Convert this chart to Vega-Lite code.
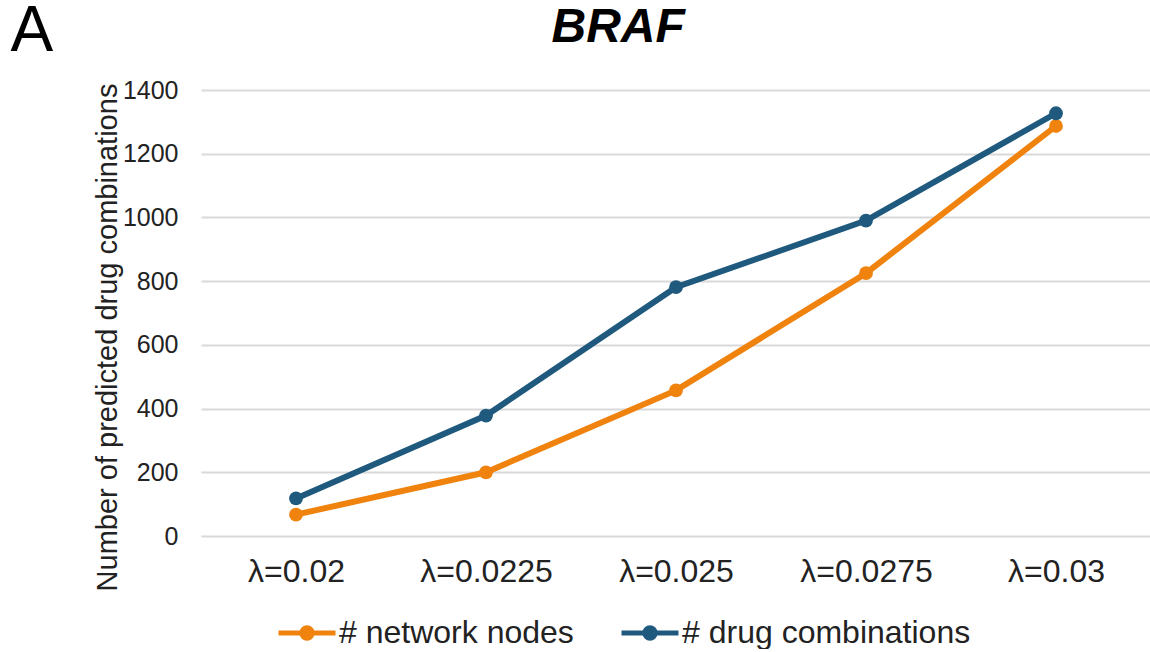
{
  "$schema": "https://vega.github.io/schema/vega-lite/v6.json",
  "background": "white",
  "autosize": {"type": "pad"},
  "padding": {"left": 10, "top": 0, "right": 0, "bottom": 0},
  "title": {
    "text": "A",
    "anchor": "start",
    "frame": "bounds",
    "fontSize": 64,
    "fontWeight": "normal",
    "font": "Liberation Sans",
    "color": "black",
    "dx": -83,
    "offset": -60
  },
  "config": {
    "font": "Liberation Sans",
    "view": {"stroke": null}
  },
  "vconcat": [
    {
      "width": 950,
      "height": 446,
      "title": {
        "text": "BRAF",
        "fontSize": 48,
        "fontWeight": "bold",
        "fontStyle": "italic",
        "font": "Liberation Sans",
        "color": "black",
        "anchor": "middle",
        "frame": "bounds",
        "offset": 26,
        "dx": -4
      },
      "data": {
        "values": [
          {"lambda": "λ=0.02", "series": "# network nodes", "value": 67},
          {"lambda": "λ=0.0225", "series": "# network nodes", "value": 200},
          {"lambda": "λ=0.025", "series": "# network nodes", "value": 457},
          {"lambda": "λ=0.0275", "series": "# network nodes", "value": 825},
          {"lambda": "λ=0.03", "series": "# network nodes", "value": 1287},
          {"lambda": "λ=0.02", "series": "# drug combinations", "value": 118},
          {"lambda": "λ=0.0225", "series": "# drug combinations", "value": 378},
          {"lambda": "λ=0.025", "series": "# drug combinations", "value": 781},
          {"lambda": "λ=0.0275", "series": "# drug combinations", "value": 990},
          {"lambda": "λ=0.03", "series": "# drug combinations", "value": 1327}
        ]
      },
      "mark": {
        "type": "line",
        "strokeWidth": 6,
        "point": {"filled": true, "size": 190}
      },
      "encoding": {
        "x": {
          "field": "lambda",
          "type": "ordinal",
          "sort": null,
          "scale": {"padding": 0.5},
          "axis": {
            "title": null,
            "labelAngle": 0,
            "labelFontSize": 32,
            "labelColor": "#222222",
            "labelPadding": 20,
            "ticks": false,
            "domain": false,
            "grid": false
          }
        },
        "y": {
          "field": "value",
          "type": "quantitative",
          "scale": {"domain": [0, 1400], "nice": false},
          "axis": {
            "title": "Number of predicted drug combinations",
            "titleFontSize": 29,
            "titleFontWeight": "normal",
            "titleColor": "#222222",
            "titlePadding": 0,
            "titleY": 247,
            "values": [0, 200, 400, 600, 800, 1000, 1200, 1400],
            "format": "d",
            "labelFontSize": 25,
            "labelColor": "#222222",
            "labelPadding": 23,
            "ticks": false,
            "domain": false,
            "grid": true,
            "gridColor": "#d9d9d9",
            "gridWidth": 2
          }
        },
        "color": {
          "field": "series",
          "type": "nominal",
          "sort": null,
          "scale": {
            "domain": ["# network nodes", "# drug combinations"],
            "range": ["#F0820E", "#1F5A7E"]
          },
          "legend": {
            "title": null,
            "orient": "none",
            "legendX": 75,
            "legendY": 512,
            "direction": "horizontal",
            "labelFontSize": 32,
            "labelLimit": 500,
            "labelColor": "#222222",
            "labelOffset": 1,
            "columnPadding": 37,
            "symbolType": "M-1,0L1,0M-0.18,0A0.18,0.18 0 1,0 0.18,0A0.18,0.18 0 1,0 -0.18,0",
            "symbolSize": 3249,
            "symbolStrokeWidth": 5,
            "encode": {
              "symbols": {
                "update": {
                  "fill": {"scale": "color", "field": "value"},
                  "stroke": {"scale": "color", "field": "value"},
                  "strokeWidth": {"value": 5}
                }
              }
            }
          }
        }
      }
    }
  ]
}
